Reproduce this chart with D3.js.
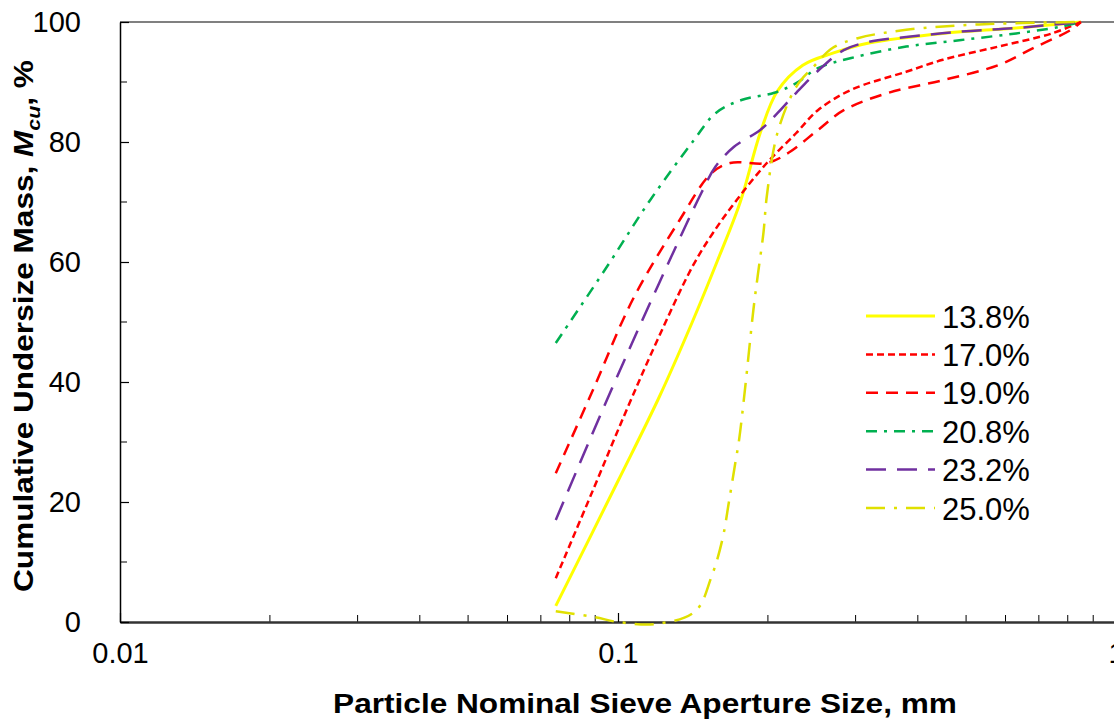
<!DOCTYPE html>
<html>
<head>
<meta charset="utf-8">
<script src="https://cdn.jsdelivr.net/npm/d3@7"></script>
<style>
  html, body { margin: 0; padding: 0; background: #fff; overflow: hidden; }
  svg { display: block; font-family: Arial, "Liberation Sans", sans-serif; }
</style>
</head>
<body>
<div id="chart"></div>
<script>
// series names, shown in the legend
const seriesNames = ['13.8%', '17.0%', '19.0%', '20.8%', '23.2%', '25.0%'];

// [aperture mm, cumulative undersize %]
const s138 = [[0.075, 2.7], [0.1, 23.5], [0.121, 37.5], [0.141, 50], [0.158, 60], [0.176, 70],
  [0.193, 81.5], [0.209, 88.5], [0.235, 92.8], [0.27, 94.8], [0.319, 96.5], [0.449, 98.1],
  [0.63, 99], [0.85, 100]];
const s170 = [[0.075, 7.3], [0.0891, 22], [0.104, 35.3], [0.12, 47], [0.141, 59.2],
  [0.155, 64.8], [0.173, 70.3], [0.199, 76.5], [0.228, 81.5], [0.252, 85.3], [0.294, 88.7],
  [0.379, 91.7], [0.449, 93.7], [0.58, 95.9], [0.744, 98.1], [0.85, 100]];
const s190 = [[0.075, 24.8], [0.0891, 38.7], [0.107, 53.7], [0.133, 67], [0.154, 74.8],
  [0.168, 76.5], [0.199, 76.5], [0.22, 78.2], [0.252, 82], [0.284, 85.3], [0.349, 88.2],
  [0.449, 90.3], [0.58, 92.8], [0.684, 95.7], [0.812, 98.7], [0.85, 100]];
const s208 = [[0.075, 46.5], [0.095, 59.2], [0.116, 70.3], [0.142, 80.3], [0.157, 84.8],
  [0.177, 87], [0.206, 88.2], [0.228, 89.8], [0.252, 92.3], [0.294, 94], [0.379, 95.9],
  [0.489, 97], [0.63, 98.1], [0.772, 99.2], [0.85, 100]];
const s232 = [[0.075, 17], [0.0964, 38.2], [0.121, 56.5], [0.147, 71.5], [0.157, 75.9],
  [0.171, 79.2], [0.193, 82], [0.209, 84.8], [0.228, 88.2], [0.257, 92.5], [0.284, 95.3],
  [0.319, 96.7], [0.379, 97.5], [0.489, 98.4], [0.63, 99], [0.85, 100]];
const s250 = [[0.075, 1.8], [0.0899, 0.8], [0.1, 0], [0.12, -0.3], [0.143, 1.8], [0.154, 7.5],
  [0.162, 13.7], [0.167, 20], [0.172, 26.5], [0.175, 30.3], [0.18, 39], [0.187, 52],
  [0.191, 58], [0.196, 65], [0.199, 71], [0.209, 81.5], [0.228, 89.2], [0.248, 92.7],
  [0.27, 95.7], [0.303, 97.3], [0.379, 98.7], [0.531, 99.6], [0.85, 100]];

const seriesValues = [s138, s170, s190, s208, s232, s250];

// tick labels
const xTickValues = [0.01, 0.1, 1];
const xTickLabels = ['0.01', '0.1', '1'];
const yTickValues = [0, 20, 40, 60, 80, 100];

const styles = [
  { color: '#FFFF00', width: 3, dash: null },
  { color: '#FF0000', width: 2.5, dash: '7,4' },
  { color: '#FF0000', width: 2.5, dash: '12,8' },
  { color: '#00B050', width: 2.5, dash: '11,7,3,7' },
  { color: '#7030A0', width: 2.5, dash: '20,11' },
  { color: '#E0E000', width: 2.5, dash: '19,9,3,9' }
];

const W = 1114, H = 719;
const plotLeft = 120, plotRight = 1116, plotTop = 22, plotBottom = 622;

const svg = d3.select('#chart').append('svg')
  .attr('width', W)
  .attr('height', H);

const x = d3.scaleLog().domain([0.01, 1]).range([plotLeft, plotRight]);
const y = d3.scaleLinear().domain([0, 100]).range([plotBottom, plotTop]);

// top border
svg.append('line')
  .attr('x1', plotLeft).attr('x2', W).attr('y1', plotTop).attr('y2', plotTop)
  .attr('stroke', '#808080').attr('stroke-width', 2);

// minor ticks
const xMinor = [];
[0.01, 0.1].forEach(d => { for (let k = 2; k <= 9; k++) xMinor.push(d * k); });
svg.append('g').selectAll('line')
  .data(xMinor)
  .enter().append('line')
  .attr('x1', d => x(d)).attr('x2', d => x(d))
  .attr('y1', plotBottom).attr('y2', plotBottom - 7)
  .attr('stroke', '#000').attr('stroke-width', 1);

svg.append('g').selectAll('line')
  .data(d3.range(10, 100, 20))
  .enter().append('line')
  .attr('x1', plotLeft).attr('x2', plotLeft + 7)
  .attr('y1', d => y(d)).attr('y2', d => y(d))
  .attr('stroke', '#000').attr('stroke-width', 1);

// axes
const xAxis = svg.append('g')
  .attr('transform', `translate(0,${plotBottom})`)
  .call(d3.axisBottom(x).tickValues(xTickValues).tickFormat((d, i) => xTickLabels[i])
    .tickSizeInner(-9).tickSizeOuter(0).tickPadding(20));
xAxis.select('.domain').attr('stroke', '#333').attr('stroke-width', 2.5);
xAxis.selectAll('.tick line').attr('stroke', '#000').attr('stroke-width', 1.2);
xAxis.selectAll('text').style('font-size', '29px').attr('fill', '#000');

const yAxis = svg.append('g')
  .attr('transform', `translate(${plotLeft},0)`)
  .call(d3.axisLeft(y).tickValues(yTickValues)
    .tickSizeInner(-9).tickSizeOuter(0).tickPadding(39));
yAxis.select('.domain').attr('stroke', '#000').attr('stroke-width', 1.5);
yAxis.selectAll('.tick line').attr('stroke', '#000').attr('stroke-width', 1.2);
yAxis.selectAll('text').style('font-size', '29px').attr('fill', '#000');

// curves
const line = d3.line()
  .x(d => x(d[0]))
  .y(d => y(d[1]))
  .curve(d3.curveCatmullRom.alpha(0.5));

seriesValues.forEach((vals, i) => {
  svg.append('path')
    .datum(vals)
    .attr('d', line)
    .attr('fill', 'none')
    .attr('stroke', styles[i].color)
    .attr('stroke-width', styles[i].width)
    .attr('stroke-dasharray', styles[i].dash);
});

// legend
const legend = svg.append('g');
seriesNames.forEach((name, i) => {
  const ly = 316 + i * 38.4;
  legend.append('line')
    .attr('x1', 866).attr('x2', 935).attr('y1', ly).attr('y2', ly)
    .attr('stroke', styles[i].color)
    .attr('stroke-width', styles[i].width)
    .attr('stroke-dasharray', styles[i].dash);
  legend.append('text')
    .attr('x', 942).attr('y', ly + 11.5)
    .style('font-size', '31px')
    .text(name);
});

// axis titles, squeezed to the narrow look of the original
const xTitle = svg.append('text')
  .attr('text-anchor', 'middle')
  .style('font-size', '28px').style('font-weight', 'bold')
  .text('Particle Nominal Sieve Aperture Size, mm');
const xw = xTitle.node().getComputedTextLength();
xTitle.attr('transform', `translate(645,713) scale(${624 / xw},1)`);

const yTitle = svg.append('text')
  .attr('text-anchor', 'middle')
  .style('font-size', '28px').style('font-weight', 'bold');
yTitle.append('tspan').text('Cumulative Undersize Mass, ');
yTitle.append('tspan').style('font-style', 'italic').text('M');
yTitle.append('tspan').style('font-style', 'italic').style('font-size', '19px')
  .attr('dy', 7).text('cu');
yTitle.append('tspan').attr('dy', -7).text(', %');
const yw = yTitle.node().getComputedTextLength();
yTitle.attr('transform', `translate(33,326) rotate(-90) scale(${532 / yw},1)`);
</script>
</body>
</html>
